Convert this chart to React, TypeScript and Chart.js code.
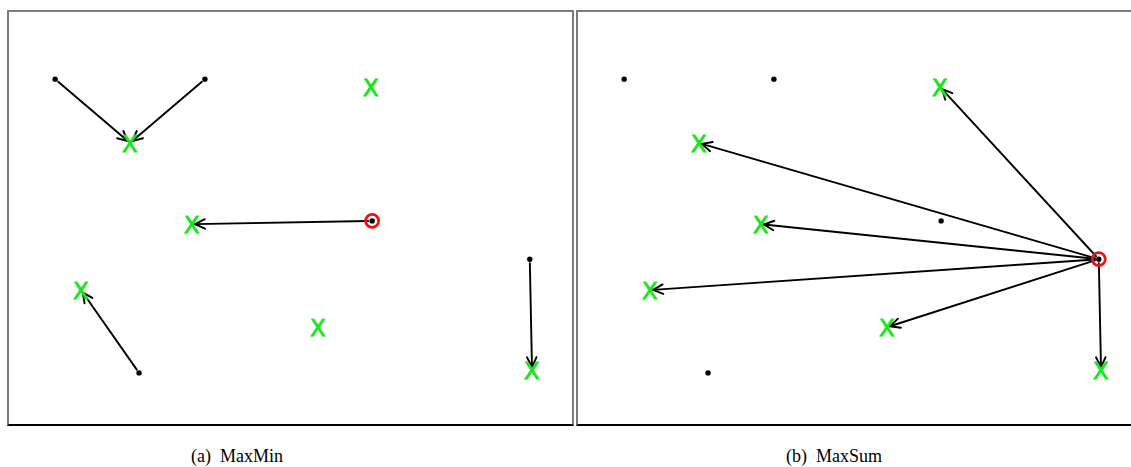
import React, { useEffect, useRef } from "react";
import { Chart, registerables } from "chart.js";

Chart.register(...registerables);

// Data (panel coordinates, 0..100 on both axes)
const sourceX = [8.2, 34.8, 23.1, 92.5, 64.5];
const sourceY = [83.7, 83.7, 12.4, 40.0, 49.3];
const targetX = [21.5, 64.3, 32.5, 12.8, 54.9, 92.9];
const targetY = [68.2, 81.8, 48.5, 32.5, 23.5, 13.1];

// arrows: [source index, target index]
const arrowsMaxMin = [[0, 0], [1, 0], [4, 2], [2, 3], [3, 5]];
const arrowsMaxSum = [[3, 0], [3, 1], [3, 2], [3, 3], [3, 4], [3, 5]];
const selectedMaxMin = 4;
const selectedMaxSum = 3;

const captions = ["(a)  MaxMin", "(b)  MaxSum"];

function makeXGlyph(): HTMLCanvasElement {
  const c = document.createElement("canvas");
  c.width = 22;
  c.height = 28;
  const ctx = c.getContext("2d")!;
  ctx.fillStyle = "rgb(30,228,30)";
  ctx.strokeStyle = "rgb(30,228,30)";
  ctx.lineWidth = 0.9;
  ctx.font = "23px 'DejaVu Sans'";
  ctx.textAlign = "center";
  ctx.textBaseline = "middle";
  ctx.fillText("X", 11, 17);
  ctx.strokeText("X", 11, 17);
  return c;
}

const arrowPlugin = {
  id: "arrows",
  beforeDatasetsDraw(chart: any, _args: any, opts: any) {
    const arrows: number[][] = opts.arrows || [];
    const xs = chart.scales.x;
    const ys = chart.scales.y;
    const ctx = chart.ctx;
    ctx.save();
    ctx.strokeStyle = "#000";
    ctx.lineWidth = 1.9;
    ctx.lineCap = "round";
    for (const [s, t] of arrows) {
      const x0 = xs.getPixelForValue(sourceX[s]);
      const y0 = ys.getPixelForValue(sourceY[s]);
      const x1 = xs.getPixelForValue(targetX[t]);
      const y1 = ys.getPixelForValue(targetY[t]);
      const dx = x1 - x0;
      const dy = y1 - y0;
      const len = Math.hypot(dx, dy);
      const ux = dx / len;
      const uy = dy / len;
      const sx = x0 + ux * 4;
      const sy = y0 + uy * 4;
      const ex = x1 - ux * 3;
      const ey = y1 - uy * 3;
      ctx.beginPath();
      ctx.moveTo(sx, sy);
      ctx.lineTo(ex, ey);
      ctx.stroke();
      const ang = Math.atan2(uy, ux);
      const hl = 11;
      const ha = 0.45;
      ctx.beginPath();
      ctx.moveTo(ex - hl * Math.cos(ang - ha), ey - hl * Math.sin(ang - ha));
      ctx.lineTo(ex, ey);
      ctx.lineTo(ex - hl * Math.cos(ang + ha), ey - hl * Math.sin(ang + ha));
      ctx.stroke();
    }
    ctx.restore();
  },
};

function Panel({ arrows, selected }: { arrows: number[][]; selected: number }) {
  const ref = useRef<HTMLCanvasElement>(null);
  useEffect(() => {
    const glyph = makeXGlyph();
    const chart = new Chart(ref.current!, {
      type: "scatter",
      data: {
        datasets: [
          {
            data: sourceX.map((x, i) => ({ x, y: sourceY[i] })),
            pointRadius: 2.7,
            pointBackgroundColor: "#000",
            pointBorderWidth: 0,
          },
          {
            data: [{ x: sourceX[selected], y: sourceY[selected] }],
            pointRadius: 6.5,
            pointBorderColor: "#ee1111",
            pointBorderWidth: 2.8,
            pointBackgroundColor: "rgba(0,0,0,0)",
          },
          {
            data: targetX.map((x, i) => ({ x, y: targetY[i] })),
            pointStyle: glyph,
            pointRadius: 10,
          },
        ],
      },
      options: {
        animation: false,
        responsive: false,
        maintainAspectRatio: false,
        layout: { padding: 0, autoPadding: false },
        events: [],
        scales: {
          x: { type: "linear", min: 0, max: 100, display: false },
          y: { type: "linear", min: 0, max: 100, display: false },
        },
        plugins: {
          legend: { display: false },
          tooltip: { enabled: false },
          arrows: { arrows },
        } as any,
      },
      plugins: [arrowPlugin],
    });
    return () => chart.destroy();
  }, []);
  return <canvas ref={ref} width={563} height={412} style={{ display: "block" }} />;
}

export default function App() {
  const panelStyle = (left: number): React.CSSProperties => ({
    position: "absolute",
    left,
    top: 10,
    width: 567,
    height: 416,
    boxSizing: "border-box",
    borderTop: "2px solid #7a7a7a",
    borderLeft: "2px solid #7a7a7a",
    borderRight: "2px solid #7a7a7a",
    borderBottom: "2px solid #000",
    background: "#fff",
    overflow: "hidden",
  });
  const capStyle = (cx: number): React.CSSProperties => ({
    position: "absolute",
    left: cx - 100,
    width: 200,
    top: 445,
    textAlign: "center",
    fontFamily: "'Liberation Serif', serif",
    fontSize: 18,
    lineHeight: "22px",
    color: "#000",
    whiteSpace: "pre",
  });
  return (
    <div
      style={{
        position: "fixed",
        left: 0,
        top: 0,
        width: 1131,
        height: 467,
        overflow: "hidden",
        background: "#fff",
      }}
    >
      <div style={panelStyle(7)}>
        <Panel arrows={arrowsMaxMin} selected={selectedMaxMin} />
      </div>
      <div style={panelStyle(576)}>
        <Panel arrows={arrowsMaxSum} selected={selectedMaxSum} />
      </div>
      <div style={capStyle(237)}>{captions[0]}</div>
      <div style={capStyle(834)}>{captions[1]}</div>
    </div>
  );
}
